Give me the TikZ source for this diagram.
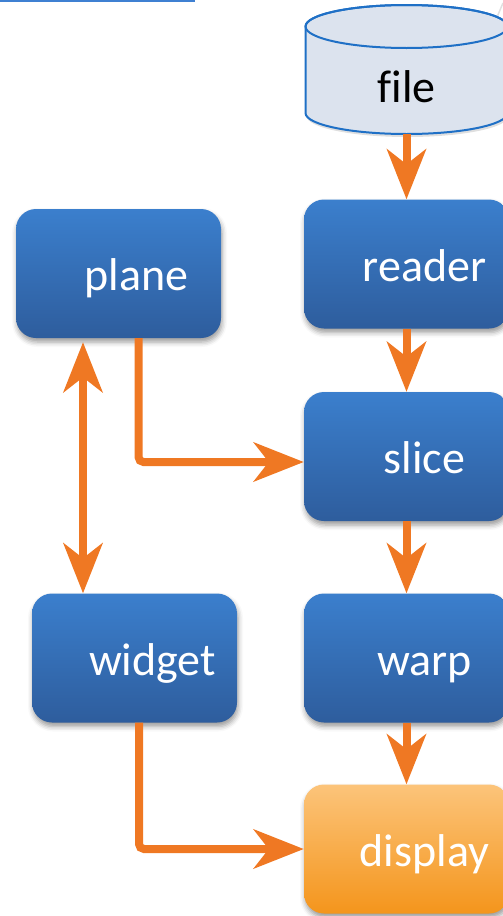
\documentclass[tikz,border=0pt]{standalone}
\usepackage{fontspec}
\setmainfont{Carlito}[Ligatures=NoCommon]
\usetikzlibrary{arrows.meta,shadows,shadows.blur,calc}

\definecolor{boxtop}{HTML}{3B7FCD}
\definecolor{boxbot}{HTML}{2E5D9D}
\definecolor{showtop}{HTML}{FCC47A}
\definecolor{showbot}{HTML}{F4951C}
\definecolor{flowc}{HTML}{EF7823}
\definecolor{cylfill}{HTML}{DCE3EE}
\definecolor{cylline}{HTML}{1F70C6}
\definecolor{frameline}{HTML}{3F80D2}

\tikzset{
  stage/.style={rectangle, rounded corners=20pt, minimum width=205pt,
    minimum height=129pt, inner sep=0pt, text=white,
    font=\fontsize{46}{46}\selectfont, text height=34pt, text depth=0pt,
    top color=boxtop, bottom color=boxbot, draw=none,
    blur shadow={shadow xshift=1pt, shadow yshift=-4pt,
      shadow blur radius=5pt, shadow opacity=40}},
  showstage/.style={stage, top color=showtop, bottom color=showbot},
  tipshape/.tip={Stealth[length=50pt, width=39pt, inset=15pt]},
  flow/.style={draw=flowc, line width=8pt, rounded corners=5pt, -tipshape},
  biflow/.style={draw=flowc, line width=8pt, tipshape-tipshape},
  storeshape/.style={fill=cylfill, draw=cylline, line width=2pt},
}

\begin{document}
\begin{tikzpicture}[x=1pt, y=-1pt]
\useasboundingbox (0,0) rectangle (503,916);

% edge of the frame above, and a faint guide line
\draw[frameline, line width=2.5pt] (0,1) -- (195,1);
\draw[black!12, line width=1.5pt] (489,36) -- (503,3);

% data source cylinder
\path[storeshape, drop shadow={shadow xshift=1pt, shadow yshift=-3pt, opacity=0.25}]
  (305.5,26.5) -- (305.5,113)
  arc[start angle=180, end angle=360, x radius=101pt, y radius=21pt]
  -- (507.5,26.5)
  arc[start angle=0, end angle=180, x radius=101pt, y radius=21.5pt] -- cycle;
\draw[cylline, line width=2pt] (406.5,26.5) ellipse[x radius=101pt, y radius=21.5pt];
\node[font=\fontsize{46}{46}\selectfont, text height=34pt, text depth=0pt,
  inner sep=0pt] (file) at (406.5,85) {file};
\coordinate (filebase) at (406.5,134);

% processing stages
\node[stage] (reader) at (406.5,264) {\hspace*{36pt}reader};
\node[stage] (slice) at (406.5,456.5) {\hspace*{36pt}slice};
\node[stage] (warp) at (406.5,658) {\hspace*{36pt}warp};
\node[showstage] (display) at (406.5,849) {\hspace*{36pt}display};
\node[stage] (plane) at (118.5,273.5) {\hspace*{36pt}plane};
\node[stage] (widget) at (134.5,658) {\hspace*{36pt}widget};

% connectors
\draw[flow] (filebase) -- (filebase |- reader.north);
\draw[flow] (reader.south) -- (slice.north);
\draw[flow] (slice.south) -- (warp.north);
\draw[flow] (warp.south) -- (display.north);
\draw[biflow] ([xshift=-35.5pt, yshift=-4pt]plane.south)
  -- ([xshift=-35.5pt]plane.south |- widget.north);
\draw[flow] ([xshift=20pt]plane.south) |- ([yshift=-5.5pt]slice.west);
\draw[flow] ([xshift=4.5pt]widget.south) |- (display.west);
\end{tikzpicture}
\end{document}
